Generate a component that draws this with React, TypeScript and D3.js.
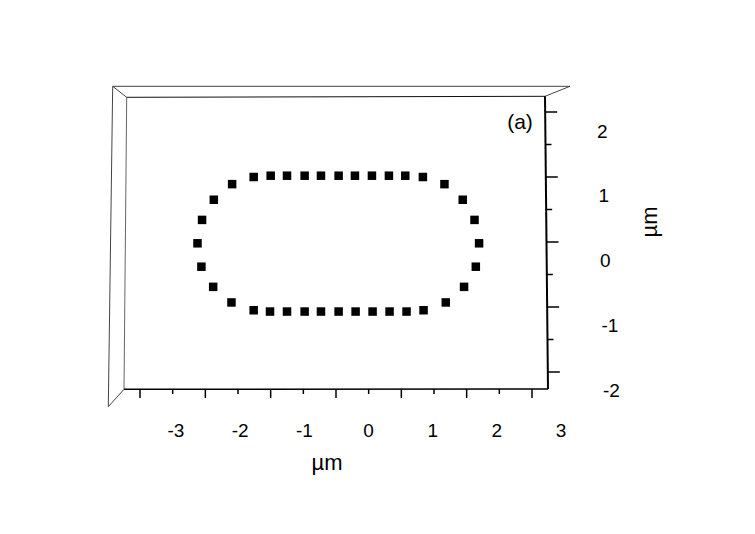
import React from "react";
import * as d3 from "d3";

// ring of measured points (µm), walked clockwise from the top-left
const ringX = [
  -1.26, -1.0, -0.75, -0.48, -0.23, 0.04, 0.29, 0.55, 0.81, 1.06, 1.33,
  1.66, 1.94, 2.12, 2.19, 2.14, 1.96, 1.68,
  1.34, 1.08, 0.82, 0.56, 0.3, 0.04, -0.23, -0.48, -0.75, -1.01, -1.26,
  -1.6, -1.88, -2.06, -2.12, -2.05, -1.87, -1.59,
];
const ringY = [
  1.0, 1.02, 1.02, 1.02, 1.02, 1.02, 1.02, 1.02, 1.02, 1.02, 1.0,
  0.89, 0.65, 0.34, -0.02, -0.38, -0.69, -0.93,
  -1.05, -1.07, -1.07, -1.07, -1.07, -1.07, -1.07, -1.07, -1.07, -1.07, -1.05,
  -0.93, -0.69, -0.38, -0.02, 0.34, 0.65, 0.89,
];

const xTicks = [-3, -2.5, -2, -1.5, -1, -0.5, 0, 0.5, 1, 1.5, 2, 2.5, 3];
const yTicks = [2, 1.5, 1, 0.5, 0, -0.5, -1, -1.5, -2];
const xTickLabels = [-3, -2, -1, 0, 1, 2, 3];
const yTickLabels = [2, 1, 0, -1, -2];
const axisTitle = "µm";
const panelTag = "(a)";

const W = 755;
const H = 534;
const FONT = "'Liberation Sans', Arial, sans-serif";

export default function App() {
  const x = d3.scaleLinear().domain([-3, 3]).range([140, 532]);
  const y = d3.scaleLinear().domain([-2, 2]).range([372, 112]);
  // labels sit off the ticks because of the tilted projection
  const xLab = d3.scaleLinear().domain([-3, 3]).range([176, 561]);
  const yLab = d3.scaleLinear().domain([-2, 2]).range([390, 131]);
  // the right edge of the front face leans a little
  const edgeX = d3.scaleLinear().domain([96.3, 389]).range([545, 548]);

  const pts = ringX.map((v, i) => [x(v), y(ringY[i])]);
  const s = 8.5;

  return (
    <svg
      width={W}
      height={H}
      style={{ position: "absolute", left: 0, top: 0, background: "#fff" }}
    >
      {/* box frame */}
      <g fill="none" stroke="#444" strokeWidth={1}>
        <line x1={112.7} y1={86.3} x2={570} y2={86.3} />
        <line x1={112.7} y1={86.3} x2={108.3} y2={406.7} />
        <line x1={112.7} y1={86.3} x2={126.7} y2={97.3} />
        <line x1={570} y1={86.3} x2={545} y2={96.3} />
        <line x1={108.3} y1={406.7} x2={124} y2={389.3} />
        <line x1={126.7} y1={97.3} x2={124} y2={389.3} stroke="#666" />
        <line x1={126.7} y1={97.3} x2={545} y2={96.3} stroke="#111" />
      </g>
      <line x1={124} y1={389.3} x2={548} y2={389} stroke="#000" strokeWidth={1.5} />
      <line x1={545} y1={96.3} x2={548} y2={389} stroke="#000" strokeWidth={2} />

      {/* x ticks */}
      {xTicks.map((t) => (
        <line
          key={"xt" + t}
          x1={x(t)}
          x2={x(t)}
          y1={389}
          y2={Number.isInteger(t) ? 398 : 394}
          stroke="#000"
          strokeWidth={1.5}
        />
      ))}
      {xTickLabels.map((t) => (
        <text
          key={"xl" + t}
          x={xLab(t)}
          y={437}
          textAnchor="middle"
          fontFamily={FONT}
          fontSize={19}
        >
          {t}
        </text>
      ))}
      <text x={327} y={470} textAnchor="middle" fontFamily={FONT} fontSize={22}>
        {axisTitle}
      </text>

      {/* y ticks */}
      {yTicks.map((t) => {
        const x0 = edgeX(y(t));
        return (
          <line
            key={"yt" + t}
            x1={x0}
            x2={x0 + (Number.isInteger(t) ? 12 : 6)}
            y1={y(t)}
            y2={y(t)}
            stroke="#000"
            strokeWidth={1.5}
          />
        );
      })}
      {yTickLabels.map((t) => (
        <text
          key={"yl" + t}
          x={t < 0 ? 600 - t * 1.5 : 600 - t * 1.5}
          y={yLab(t)}
          dy="0.35em"
          fontFamily={FONT}
          fontSize={19}
        >
          {t}
        </text>
      ))}
      <text
        transform="translate(649,222) rotate(-90)"
        textAnchor="middle"
        dy="0.35em"
        fontFamily={FONT}
        fontSize={22}
      >
        {axisTitle}
      </text>

      <text x={520} y={129} textAnchor="middle" fontFamily={FONT} fontSize={21}>
        {panelTag}
      </text>

      {/* points */}
      {pts.map(([px, py], i) => (
        <rect key={i} x={px - s / 2} y={py - s / 2} width={s} height={s} fill="#000" />
      ))}
    </svg>
  );
}
